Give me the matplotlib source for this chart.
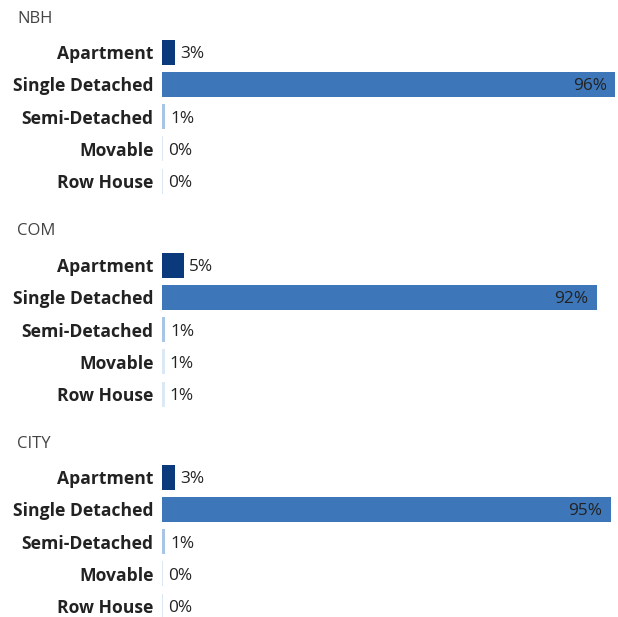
import matplotlib.pyplot as plt

plt.rcParams['font.family'] = ['Open Sans', 'DejaVu Sans']

# data
categories = ['Apartment', 'Single Detached', 'Semi-Detached', 'Movable', 'Row House']
regions = ['NBH', 'COM', 'CITY']
nbh_values = [2.8, 96.0, 0.7, 0.3, 0.3]
com_values = [4.7, 92.2, 0.7, 0.6, 0.6]
city_values = [2.8, 95.1, 0.7, 0.3, 0.3]
labels_nbh = ['3%', '96%', '1%', '0%', '0%']
labels_com = ['5%', '92%', '1%', '1%', '1%']
labels_city = ['3%', '95%', '1%', '0%', '0%']

colors = ['#0b3a7c', '#3e77b9', '#a9c5e6', '#dde8f5', '#dde8f5']

W, H = 618, 617
fig = plt.figure(figsize=(W / 100, H / 100), dpi=100)

panels = [
    (regions[0], nbh_values, labels_nbh, 36, 17),
    (regions[1], com_values, labels_com, 249, 229),
    (regions[2], city_values, labels_city, 461, 442),
]
row_h = 32.25
x0 = 162

for name, vals, labs, top, title_y in panels:
    height = row_h * len(categories)
    ax = fig.add_axes([x0 / W, 1 - (top + height) / H, (W - x0) / W, height / H])
    y = range(len(categories))
    ax.barh(y, vals, height=0.78, color=colors, edgecolor='none')
    ax.set_ylim(len(categories) - 0.5, -0.5)
    ax.set_xlim(0, 96.6)
    ax.set_yticks(list(y))
    ax.set_yticklabels(categories, fontsize=12.6, fontweight='bold', color='#222222')
    ax.tick_params(axis='y', length=0, pad=6)
    ax.set_xticks([])
    for s in ax.spines.values():
        s.set_visible(False)
    for i, (v, lab) in enumerate(zip(vals, labs)):
        if v > 50:
            ax.text(v - 1.8, i, lab, ha='right', va='center_baseline', fontsize=12.4, color='#222222')
        else:
            ax.text(v + 1.0, i, lab, ha='left', va='center_baseline', fontsize=12.4, color='#222222')
    fig.text(17 / W, 1 - title_y / H, name, ha='left', va='center_baseline', fontsize=12, color='#444444')

fig.savefig('out.png', dpi=100)
